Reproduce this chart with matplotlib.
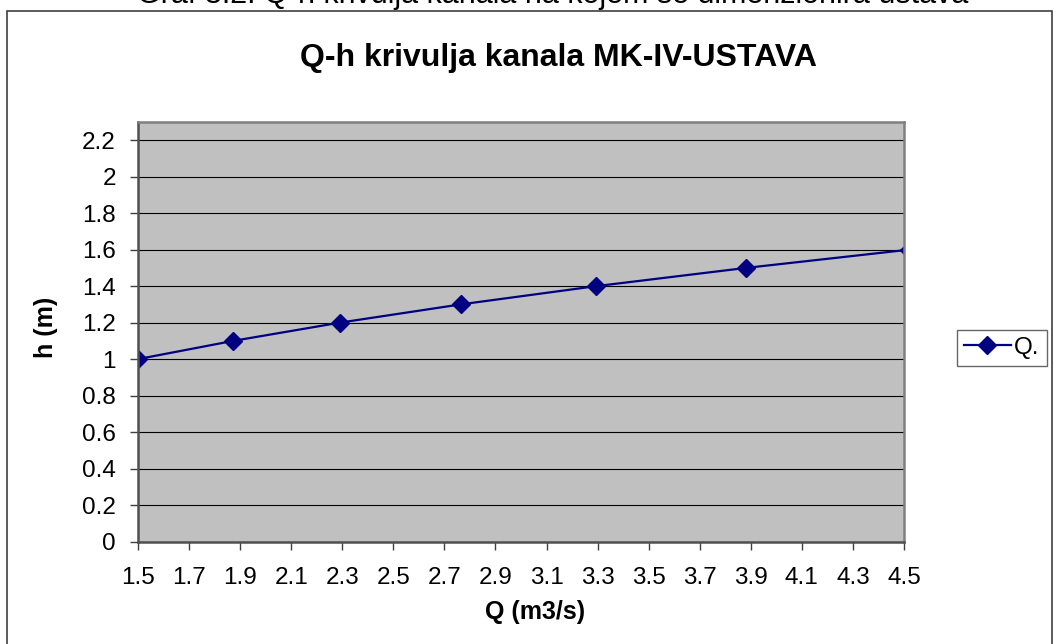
import matplotlib.pyplot as plt
from matplotlib.patches import Rectangle

# podaci s grafa
Q = [1.5, 1.873, 2.291, 2.764, 3.294, 3.881, 4.52]
h = [1.0, 1.1, 1.2, 1.3, 1.4, 1.5, 1.6]
xticks = [1.5, 1.7, 1.9, 2.1, 2.3, 2.5, 2.7, 2.9, 3.1, 3.3, 3.5, 3.7, 3.9, 4.1, 4.3, 4.5]
yticks = [0, 0.2, 0.4, 0.6, 0.8, 1, 1.2, 1.4, 1.6, 1.8, 2, 2.2]

plt.rcParams['font.family'] = ['Liberation Sans', 'DejaVu Sans']

W, H = 1054, 644
fig = plt.figure(figsize=(W / 100, H / 100), dpi=100)
fig.patch.set_facecolor('white')

# okvir oko grafikona
fig.patches.append(Rectangle((7 / W, -0.01), 1045 / W, 1.01 - 11 / H, transform=fig.transFigure,
                             fill=False, edgecolor='#404040', lw=1.2))
fig.text(553 / W, 1 - 3 / H, 'Graf 3.2. Q-h krivulja kanala na kojem se dimenzionira ustava',
         ha='center', va='baseline', fontsize=22)

ax = fig.add_axes([138 / W, 1 - 541.5 / H, (904 - 138) / W, (541.5 - 122) / H])
ax.set_facecolor('#C0C0C0')
ax.plot(Q, h, color='#000080', lw=1.6, marker='D', ms=9, label='Q.', clip_on=True)

ax.set_xlim(1.5, 4.5)
ax.set_ylim(0, 2.3)
ax.set_xticks(xticks)
ax.set_xticklabels([str(v) for v in xticks])
ax.set_yticks(yticks)
ax.set_yticklabels([('%g' % v) for v in yticks])
ax.tick_params(labelsize=17.5, length=6, width=1, color='#404040', direction='out', pad=8)
ax.tick_params(axis='x', pad=12)
ax.tick_params(axis='y', pad=10)
ax.yaxis.grid(True, color='black', lw=0.8)
ax.set_axisbelow(True)

for s in ax.spines.values():
    s.set_color('#808080')
    s.set_linewidth(1.8)
ax.spines['left'].set_color('#505050')
ax.spines['bottom'].set_color('#505050')

ax.set_xlabel('Q (m3/s)', fontsize=18, fontweight='bold')
ax.xaxis.set_label_coords((535 - 138) / (904 - 138), -(612 - 541.5) / (541.5 - 122))
ax.xaxis.label.set_va('center')
ax.set_ylabel('h (m)', fontsize=18, fontweight='bold')
ax.yaxis.set_label_coords(-(138 - 46) / (904 - 138), (541.5 - 327) / (541.5 - 122))
ax.yaxis.label.set_va('center')
fig.text(559 / W, 1 - 58 / H, 'Q-h krivulja kanala MK-IV-USTAVA', ha='center', va='center',
         fontsize=23, fontweight='bold')

leg = ax.legend(loc='center right', bbox_to_anchor=(1047 / W, 1 - 348 / H), bbox_transform=fig.transFigure,
                fontsize=17.5, frameon=True, fancybox=False, borderpad=0.3, handlelength=1.9,
                handletextpad=0.15, borderaxespad=0)
leg.get_frame().set_edgecolor('#404040')
leg.get_frame().set_linewidth(1)

fig.savefig('out.png', dpi=100)
